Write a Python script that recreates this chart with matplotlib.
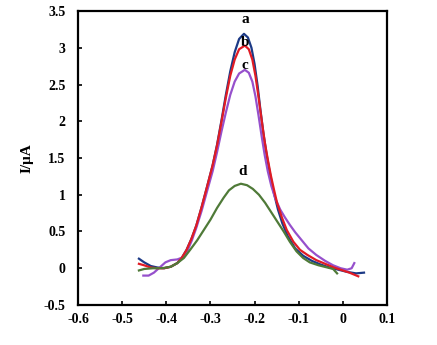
import matplotlib.pyplot as plt

# potential (V) and current (uA) for each voltammogram
pot_a = [-0.462, -0.45, -0.435, -0.42, -0.405, -0.39, -0.375, -0.365, -0.354, -0.343, -0.332,
         -0.32, -0.308, -0.295, -0.285, -0.275, -0.265, -0.255, -0.245, -0.235, -0.224,
         -0.215, -0.207, -0.200, -0.193, -0.187, -0.180, -0.173, -0.166, -0.158, -0.147,
         -0.137, -0.125, -0.108, -0.09, -0.07, -0.05, -0.03, -0.01, 0.01, 0.03, 0.048]
cur_a = [0.13, 0.08, 0.03, 0.01, 0.0, 0.02, 0.07, 0.14, 0.25, 0.40, 0.58,
         0.83, 1.10, 1.40, 1.68, 2.01, 2.36, 2.68, 2.94, 3.12, 3.19,
         3.14, 3.00, 2.78, 2.48, 2.17, 1.84, 1.56, 1.32, 1.07, 0.80,
         0.61, 0.44, 0.27, 0.17, 0.10, 0.05, 0.01, -0.02, -0.05, -0.07, -0.06]

pot_b = [-0.462, -0.45, -0.435, -0.42, -0.405, -0.39, -0.375, -0.365, -0.354, -0.343, -0.332,
         -0.32, -0.308, -0.295, -0.285, -0.275, -0.265, -0.255, -0.245, -0.235, -0.222,
         -0.213, -0.205, -0.198, -0.191, -0.184, -0.177, -0.170, -0.163, -0.156, -0.149,
         -0.138, -0.127, -0.112, -0.097, -0.08, -0.06, -0.04, -0.02, 0.0, 0.015, 0.035]
cur_b = [0.06, 0.04, 0.01, 0.0, 0.0, 0.02, 0.07, 0.14, 0.25, 0.40, 0.58,
         0.83, 1.10, 1.40, 1.67, 1.99, 2.32, 2.62, 2.84, 2.98, 3.03,
         2.98, 2.84, 2.62, 2.33, 2.02, 1.72, 1.48, 1.26, 1.07, 0.89,
         0.69, 0.52, 0.36, 0.25, 0.18, 0.11, 0.06, 0.01, -0.03, -0.06, -0.11]

pot_c = [-0.452, -0.44, -0.428, -0.415, -0.402, -0.39, -0.375, -0.362, -0.352, -0.342, -0.332,
         -0.32, -0.308, -0.295, -0.285, -0.275, -0.265, -0.255, -0.245, -0.235, -0.222,
         -0.213, -0.205, -0.198, -0.191, -0.184, -0.177, -0.170, -0.162, -0.153, -0.142,
         -0.131, -0.12, -0.108, -0.093, -0.078, -0.06, -0.04, -0.022, -0.005, 0.01, 0.02, 0.026]
cur_c = [-0.10, -0.10, -0.06, 0.01, 0.08, 0.11, 0.12, 0.15, 0.24, 0.38, 0.55,
         0.78, 1.04, 1.32, 1.58, 1.86, 2.12, 2.36, 2.54, 2.65, 2.70,
         2.66, 2.54, 2.34, 2.08, 1.80, 1.54, 1.32, 1.12, 0.95, 0.80,
         0.69, 0.59, 0.49, 0.38, 0.27, 0.18, 0.10, 0.04, 0.0, -0.02, 0.0, 0.07]

pot_d = [-0.462, -0.45, -0.43, -0.41, -0.39, -0.375, -0.36, -0.346, -0.33, -0.315, -0.30,
         -0.285, -0.27, -0.258, -0.245, -0.231, -0.217, -0.204, -0.19, -0.176, -0.162,
         -0.148, -0.134, -0.12, -0.105, -0.09, -0.075, -0.055, -0.035, -0.022, -0.013]
cur_d = [-0.03, -0.01, 0.0, 0.0, 0.02, 0.07, 0.14, 0.25, 0.38, 0.52, 0.66,
         0.82, 0.96, 1.06, 1.12, 1.15, 1.13, 1.08, 1.00, 0.89, 0.76,
         0.63, 0.50, 0.36, 0.23, 0.14, 0.08, 0.04, 0.01, -0.01, -0.07]

curve_labels = ["a", "b", "c", "d"]
label_pos = [(-0.221, 3.38), (-0.221, 3.07), (-0.222, 2.76), (-0.226, 1.32)]

x_ticks = [-0.6, -0.5, -0.4, -0.3, -0.2, -0.1, 0, 0.1]
y_ticks = [-0.5, 0, 0.5, 1, 1.5, 2, 2.5, 3, 3.5]

plt.rcParams['font.family'] = ['Liberation Serif', 'DejaVu Serif']
plt.rcParams['font.weight'] = 'bold'

fig = plt.figure(figsize=(4.37, 3.45), dpi=100)
ax = fig.add_axes([0.1785, 0.116, 0.707, 0.852])

ax.plot(pot_a, cur_a, color="#1c3a86", lw=1.6)
ax.plot(pot_c, cur_c, color="#9650cc", lw=1.6)
ax.plot(pot_b, cur_b, color="#e01b24", lw=1.6)
ax.plot(pot_d, cur_d, color="#4f7a38", lw=1.6)

for lab, (px, py) in zip(curve_labels, label_pos):
    ax.text(px, py, lab, ha="center", va="center", fontsize=11, fontweight="bold")

ax.set_xlim(-0.6, 0.1)
ax.set_ylim(-0.5, 3.5)
ax.set_xticks(x_ticks)
ax.set_xticklabels(["-0.6", "-0.5", "-0.4", "-0.3", "-0.2", "-0.1", "0", "0.1"])
ax.set_yticks(y_ticks)
ax.set_yticklabels(["-0.5", "0", "0.5", "1", "1.5", "2", "2.5", "3", "3.5"])
ax.tick_params(direction="in", length=3, width=1.2, labelsize=10, pad=6)
ax.tick_params(axis="y", pad=9)
for s in ax.spines.values():
    s.set_linewidth(1.6)

ax.set_ylabel("I/μA", fontsize=11, fontweight="bold", labelpad=7)

fig.savefig("out.png", dpi=100)
